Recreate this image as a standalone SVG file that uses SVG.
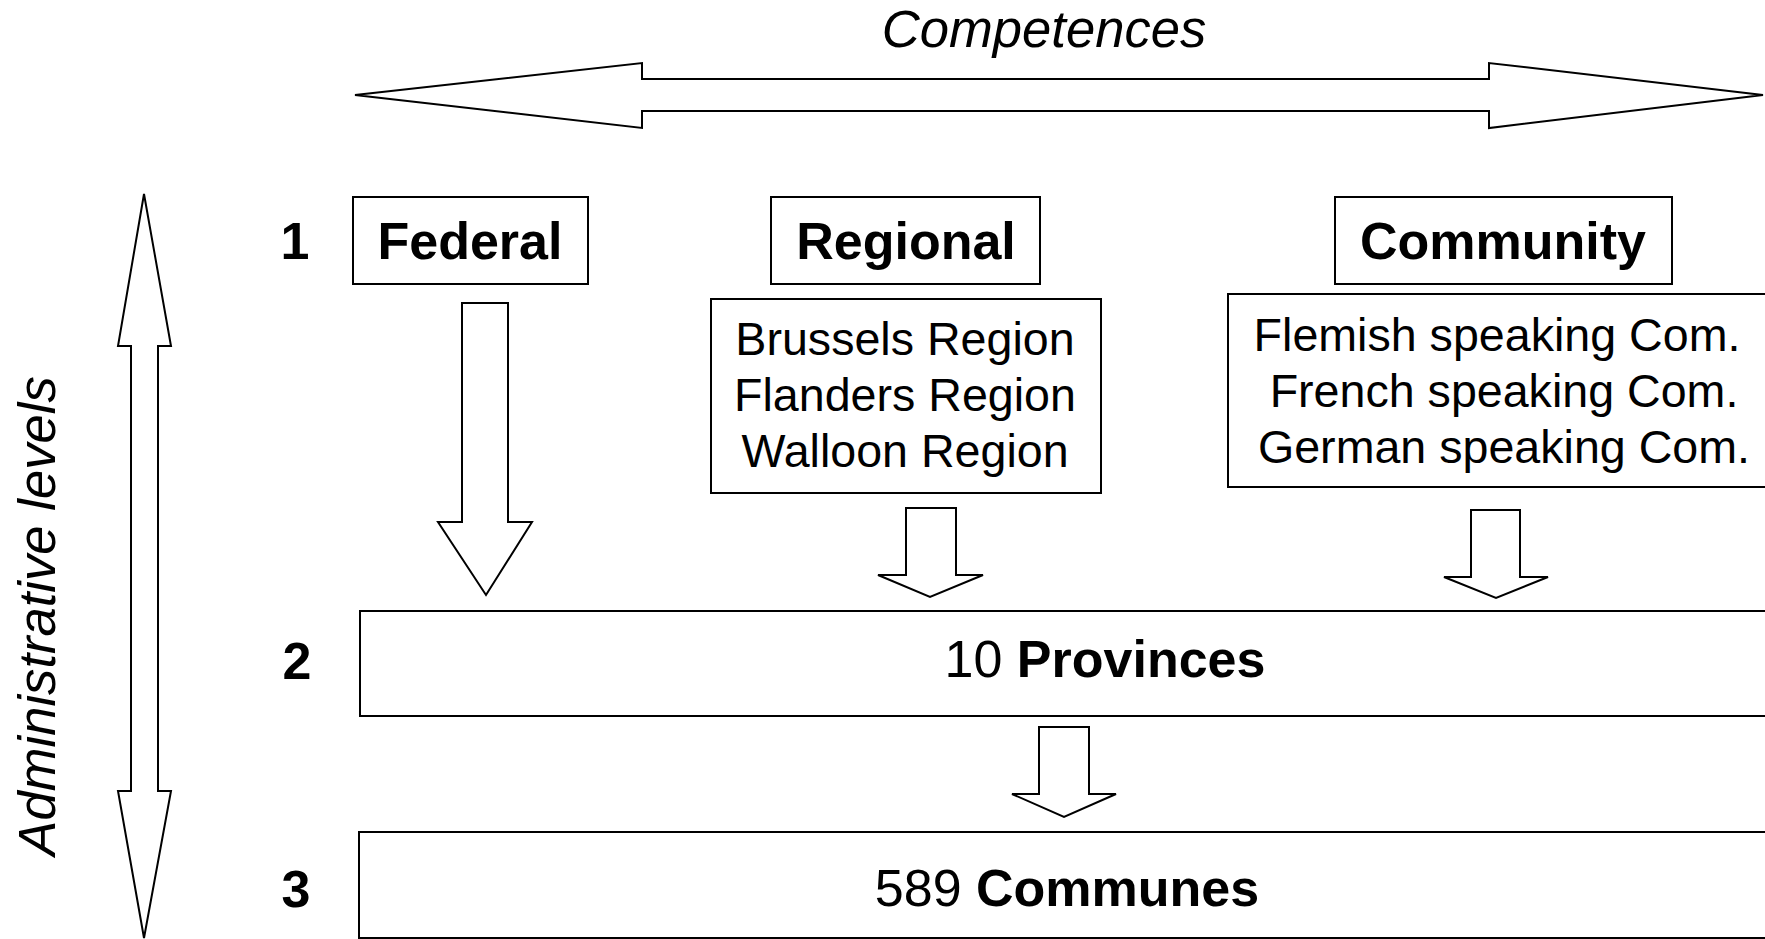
<svg xmlns="http://www.w3.org/2000/svg" width="1765" height="939" viewBox="0 0 1765 939">
<style>
.box{fill:#fff;stroke:#000;stroke-width:2}
.arr{fill:#fff;stroke:#000;stroke-width:2;stroke-linejoin:miter}
text{font-family:"Liberation Sans",Arial,sans-serif;fill:#000}
.b{font-weight:bold;font-size:52px;text-anchor:middle}
.r{font-size:46.6px;text-anchor:middle}
.it{font-style:italic;font-size:52.6px;text-anchor:middle}
.big{font-size:52px;text-anchor:middle}
</style>
<rect width="1765" height="939" fill="#fff"/>
<g id="axis-competences">
<polygon class="arr" points="355,95 642,63 642,79 1489,79 1489,63 1763,95 1489,128 1489,111 642,111 642,128"/>
<text class="it" x="1044" y="47">Competences</text>
</g>
<g id="axis-levels">
<polygon class="arr" points="144,194 171,346 158,346 158,791 171,791 144,938 118,791 131,791 131,346 118,346"/>
<text class="it" transform="translate(55,616) rotate(-90)" x="0" y="0">Administrative levels</text>
</g>
<g id="level-labels">
<text class="b" x="295" y="259">1</text>
<text class="b" x="297" y="679">2</text>
<text class="b" x="296" y="907">3</text>
</g>
<g id="federal">
<rect class="box" x="353" y="197" width="235" height="87"/>
<text class="b" x="470" y="259">Federal</text>
</g>
<g id="regional">
<rect class="box" x="771" y="197" width="269" height="87"/>
<text class="b" x="906" y="259">Regional</text>
</g>
<g id="community">
<rect class="box" x="1335" y="197" width="337" height="87"/>
<text class="b" x="1503" y="259">Community</text>
</g>
<g id="regions-list">
<rect class="box" x="711" y="299" width="390" height="194"/>
<text class="r" x="905" y="355">Brussels Region</text>
<text class="r" x="905" y="411">Flanders Region</text>
<text class="r" x="905" y="467">Walloon Region</text>
</g>
<g id="communities-list">
<rect class="box" x="1228" y="294" width="560" height="193"/>
<text class="r" x="1497" y="351">Flemish speaking Com.</text>
<text class="r" x="1504" y="407">French speaking Com.</text>
<text class="r" x="1504" y="463">German speaking Com.</text>
</g>
<g id="provinces">
<rect class="box" x="360" y="611" width="1430" height="105"/>
<text class="big" x="1105" y="677">10 <tspan font-weight="bold">Provinces</tspan></text>
</g>
<g id="communes">
<rect class="box" x="359" y="832" width="1430" height="106"/>
<text class="big" x="1067" y="906">589 <tspan font-weight="bold">Communes</tspan></text>
</g>
<g id="connectors">
<polygon class="arr" points="462,303 508,303 508,522 532,522 486,595 438,522 462,522"/>
<polygon class="arr" points="906,508 956,508 956,575 983,575 930,597 878,575 906,575"/>
<polygon class="arr" points="1471,510 1520,510 1520,577 1548,577 1496,598 1444,577 1471,577"/>
<polygon class="arr" points="1039,727 1089,727 1089,794 1116,794 1064,817 1012,794 1039,794"/>
</g>
</svg>
